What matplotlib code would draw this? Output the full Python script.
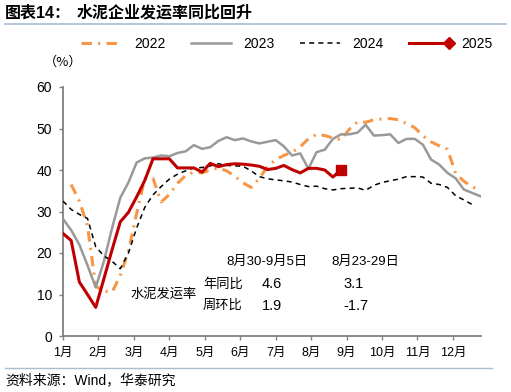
import numpy as np
import matplotlib
matplotlib.use("Agg")
import matplotlib.pyplot as plt
from matplotlib.lines import Line2D
from matplotlib.legend_handler import HandlerLine2D

plt.rcParams['font.family'] = ['Liberation Sans', 'Noto Sans CJK SC']
plt.rcParams['lines.scale_dashes'] = False
plt.rcParams['axes.unicode_minus'] = False

# ---------------- data (weekly values, %) ----------------
month_labels = ["1月", "2月", "3月", "4月", "5月", "6月", "7月", "8月", "9月", "10月", "11月", "12月"]

start_2022 = 1  # first week index of the 2022 series
v2022 = [36.5, 32.5, 26.5, 12.0, 10.8, 10.6, 14.5, 20.5, 29.5, 38.0,
         38.0, 32.3, 34.1, 36.8, 38.7, 39.5, 39.3, 40.0, 40.5, 39.8,
         38.5, 36.9, 35.8, 38.0, 40.8, 42.5, 43.5, 44.3, 45.6, 47.5,
         48.6, 48.3, 47.7, 47.3, 49.8, 51.6, 51.5, 52.1, 52.3, 52.4,
         52.1, 51.2, 50.2, 48.2, 46.8, 45.8, 45.0, 39.2, 37.3, 36.0, 35.0]

v2023 = [28.2, 25.5, 22.0, 17.0, 11.7, 18.0, 26.0, 33.3, 37.0, 41.8,
         42.8, 43.0, 43.5, 43.3, 44.1, 44.5, 46.0, 45.1, 45.5, 47.0,
         47.9, 47.2, 47.6, 46.9, 46.4, 46.8, 47.2, 45.7, 43.5, 44.0,
         40.3, 44.3, 44.9, 47.5, 48.6, 48.6, 49.0, 50.9, 48.3, 48.4,
         48.6, 46.5, 47.5, 47.5, 46.1, 42.5, 41.3, 39.3, 38.0, 35.3,
         34.5, 33.7]

v2024 = [32.5, 30.5, 29.3, 28.3, 21.5, 19.3, 18.0, 16.2, 20.0, 26.0,
         31.0, 34.0, 36.0, 37.8, 39.0, 39.8, 40.5, 40.6, 41.0, 41.5,
         41.1, 41.0, 40.9, 39.8, 38.4, 37.9, 37.6, 37.4, 37.1, 36.5,
         36.0, 36.1, 35.5, 35.2, 35.5, 35.6, 35.7, 35.1, 36.3, 37.0,
         37.4, 37.8, 38.4, 38.4, 38.3, 36.8, 36.5, 35.8, 33.8, 32.8, 31.7]

v2025 = [24.7, 23.0, 13.0, 10.0, 6.9, 13.8, 20.8, 27.5, 29.8, 33.5,
         37.5, 42.7, 42.7, 42.7, 40.5, 40.5, 40.5, 39.5, 41.6, 40.8,
         41.3, 41.5, 41.4, 41.2, 40.9, 40.1, 40.4, 41.1, 40.1, 39.3,
         40.4, 40.4, 40.0, 38.3, 40.1]

tbl_header = ["8月30-9月5日", "8月23-29日"]
tbl_rows = ["年同比", "周环比"]
tbl_vals = [["4.6", "3.1"], ["1.9", "-1.7"]]
tbl_title = "水泥发运率"


class RightMarkerHandler(HandlerLine2D):
    """Line legend entry with a marker only at the right end."""
    def create_artists(self, legend, orig_handle, xdescent, ydescent,
                       width, height, fontsize, trans):
        arts = super().create_artists(legend, orig_handle, xdescent, ydescent,
                                      width, height, fontsize, trans)
        for a in arts:
            n = len(a.get_xdata())
            a.set_markevery([n - 1])
        return arts


# ---------------- figure ----------------
W, H = 511, 392
fig = plt.figure(figsize=(W / 100, H / 100), dpi=100)
ax = fig.add_axes([63 / W, 1 - 336 / H, (481 - 63) / W, (336 - 87) / H])

c22, c23, c24, c25 = "#F79646", "#999999", "#000000", "#C00000"

x22 = np.arange(len(v2022)) + start_2022
x23 = np.arange(len(v2023))
x24 = np.arange(len(v2024))
x25 = np.arange(len(v2025))

ax.plot(x22, v2022, color=c22, lw=2.2, dashes=(7.5, 4.5, 1.5, 4.5), zorder=2)
ax.plot(x23, v2023, color=c23, lw=1.8, zorder=3)
ax.plot(x24, v2024, color=c24, lw=1.1, dashes=(3.6, 3.0), zorder=3)
ax.plot(x25, v2025, color=c25, lw=2.2, zorder=4)
ax.plot(x25[-1:], v2025[-1:], 's', color=c25, ms=7, zorder=5)

ax.set_xlim(0, 51.1)
ax.set_ylim(0, 60)
ax.set_yticks(np.arange(0, 61, 10))
ax.set_xticks(np.arange(12) * 52 / 12)
ax.set_xticklabels(month_labels, fontsize=9)
ax.tick_params(axis='y', labelsize=10, length=3, width=1, color="#808080", pad=5)
ax.tick_params(axis='x', length=3, width=1, color="#808080", pad=5)
for s in ["top", "right"]:
    ax.spines[s].set_visible(False)
for s in ["left", "bottom"]:
    ax.spines[s].set_color("#808080")
    ax.spines[s].set_linewidth(1.3)

# legend
h25 = Line2D([], [], color=c25, lw=2.2, marker='D', ms=6)
handles = [
    Line2D([], [], color=c22, lw=2.2, dashes=(7.5, 4.5, 1.5, 4.5)),
    Line2D([], [], color=c23, lw=1.8),
    Line2D([], [], color=c24, lw=1.1, dashes=(3.6, 3.0)),
    h25,
]
fig.legend(handles, ["2022", "2023", "2024", "2025"], loc='center',
           bbox_to_anchor=(285 / W, 1 - 44 / H), ncol=4, frameon=False,
           fontsize=10, numpoints=2, handlelength=3.5, handletextpad=0.6,
           columnspacing=1.5, handler_map={h25: RightMarkerHandler()})

fig.text(44 / W, 1 - 62 / H, "（%）", fontsize=9.5, va='center', ha='left',
         family=['Noto Sans CJK SC'])

# title and rules
fig.text(5 / W, 1 - 13 / H, "图表14：", fontsize=11.5,
         fontweight='bold', va='center', ha='left')
fig.text(77 / W, 1 - 13 / H, "水泥企业发运率同比回升", fontsize=11.5,
         fontweight='bold', va='center', ha='left')
fig.add_artist(Line2D([5 / W, 506 / W], [1 - 24 / H, 1 - 24 / H], color="#A9BCD0", lw=1.2))
fig.add_artist(Line2D([5 / W, 492 / W], [1 - 367.5 / H, 1 - 367.5 / H], color="#A9BCD0", lw=1.0))
fig.text(5 / W, 1 - 380 / H, "资料来源：Wind，华泰研究", fontsize=10, va='center', ha='left')

# annotation table
fs = 9.5
fig.text(226 / W, 1 - 262 / H, tbl_header[0], fontsize=fs, va='center', ha='left')
fig.text(331 / W, 1 - 262 / H, tbl_header[1], fontsize=fs, va='center', ha='left')
fig.text(130 / W, 1 - 294 / H, tbl_title, fontsize=fs, va='center', ha='left')
fig.text(203 / W, 1 - 284 / H, tbl_rows[0], fontsize=fs, va='center', ha='left')
fig.text(203 / W, 1 - 306 / H, tbl_rows[1], fontsize=fs, va='center', ha='left')
fig.text(262 / W, 1 - 284 / H, tbl_vals[0][0], fontsize=10.5, va='center', ha='left')
fig.text(343 / W, 1 - 284 / H, tbl_vals[0][1], fontsize=10.5, va='center', ha='left')
fig.text(262 / W, 1 - 306 / H, tbl_vals[1][0], fontsize=10.5, va='center', ha='left')
fig.text(343 / W, 1 - 306 / H, tbl_vals[1][1], fontsize=10.5, va='center', ha='left')

fig.savefig("out.png", dpi=100)
